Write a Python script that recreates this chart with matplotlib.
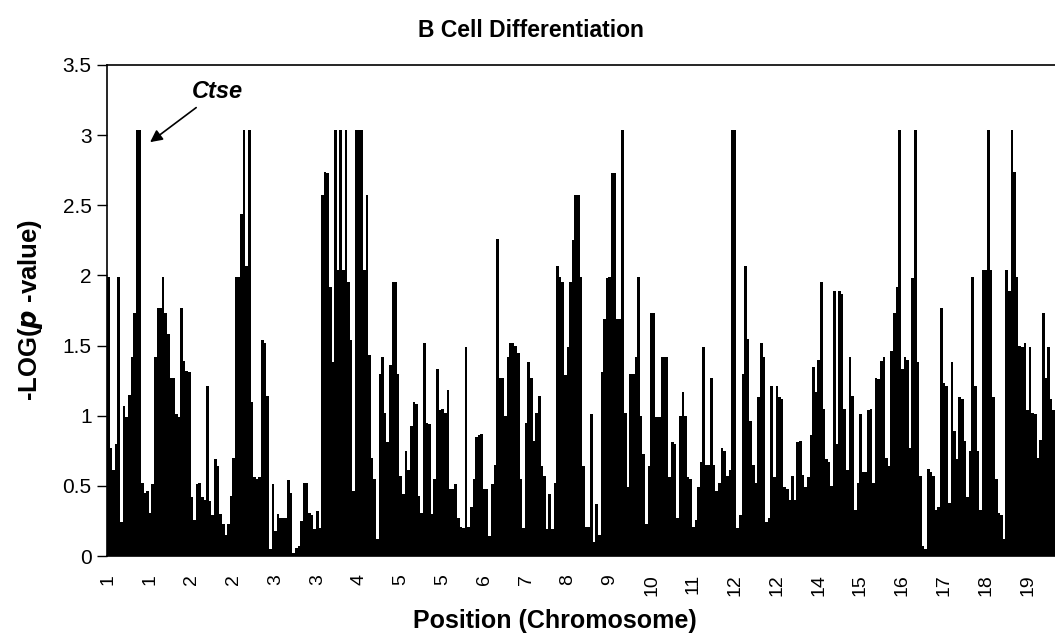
import matplotlib
matplotlib.use("Agg")
import matplotlib.pyplot as plt
from matplotlib.ticker import FixedLocator, FuncFormatter

plt.rcParams['font.family'] = ['Liberation Sans', 'DejaVu Sans']

# -log(p) per marker, read left to right along the genome
log_p = [
    # chr 1 - 3
    1.99, 0.77, 0.61, 0.80, 1.99, 0.24, 1.07, 0.99, 1.15, 1.42,
    1.73, 3.04, 3.04, 0.52, 0.45, 0.46, 0.31, 0.51, 1.42, 1.77,
    1.77, 1.99, 1.73, 1.58, 1.27, 1.27, 1.01, 0.99, 1.77, 1.39,
    1.32, 1.31, 0.42, 0.26, 0.51, 0.52, 0.42, 0.40, 1.21, 0.39,
    0.29, 0.69, 0.64, 0.30, 0.23, 0.15, 0.23, 0.43, 0.70, 1.99,
    1.99, 2.44, 3.04, 2.07, 3.04, 1.10, 0.56, 0.55, 0.56,
    # chr 3 - 5
    1.54, 1.52, 1.14, 0.05, 0.51, 0.18, 0.30, 0.27, 0.27, 0.27,
    0.54, 0.45, 0.02, 0.06, 0.07, 0.25, 0.52, 0.52, 0.31, 0.29,
    0.19, 0.32, 0.20, 2.57, 2.74, 2.73, 1.92, 1.38, 3.04, 2.04,
    3.04, 2.04, 3.04, 1.95, 1.54, 0.46, 3.04, 3.04, 3.04, 2.04,
    2.57, 1.43, 0.70, 0.55, 0.12, 1.30, 1.42, 1.02, 0.81, 1.36,
    1.95, 1.95, 1.30, 0.57, 0.44, 0.75, 0.61, 0.93, 1.10, 1.08,
    0.43,
    # chr 5 - 9
    0.31, 1.52, 0.95, 0.94, 0.30, 0.55, 1.33, 1.04, 1.05, 1.02,
    1.18, 0.48, 0.48, 0.51, 0.27, 0.21, 0.20, 1.49, 0.21, 0.35,
    0.55, 0.85, 0.86, 0.87, 0.48, 0.48, 0.14, 0.51, 0.65, 2.26,
    1.27, 1.27, 1.00, 1.42, 1.52, 1.52, 1.50, 1.45, 0.55, 0.20,
    0.95, 1.38, 1.27, 0.82, 1.02, 1.14, 0.64, 0.57, 0.19, 0.44,
    0.19, 0.52, 2.07, 1.99, 1.95, 1.29, 1.49, 1.95, 2.25, 2.57,
    2.57,
    # chr 9 - 12
    1.99, 0.64, 0.21, 0.21, 1.01, 0.10, 0.37, 0.15, 1.31, 1.69,
    1.98, 1.99, 2.73, 2.73, 1.69, 1.69, 3.04, 1.02, 0.49, 1.30,
    1.30, 1.42, 1.99, 1.00, 0.73, 0.23, 0.64, 1.73, 1.73, 0.99,
    0.99, 1.42, 1.42, 1.42, 0.56, 0.81, 0.80, 0.27, 1.00, 1.17,
    1.00, 0.56, 0.55, 0.21, 0.26, 0.49, 0.67, 1.49, 0.65, 0.65,
    1.27, 0.65, 0.46, 0.52, 0.77, 0.75, 0.57, 0.61, 3.04, 3.04,
    0.20,
    # chr 12 - 16
    0.29, 1.30, 2.07, 1.55, 0.96, 0.65, 0.52, 1.13, 1.52, 1.42,
    0.24, 0.27, 1.21, 0.56, 1.21, 1.13, 1.12, 0.49, 0.48, 0.40,
    0.57, 0.40, 0.81, 0.82, 0.58, 0.49, 0.56, 0.86, 1.35, 1.17,
    1.40, 1.95, 1.05, 0.69, 0.67, 0.50, 1.89, 0.80, 1.89, 1.87,
    1.05, 0.61, 1.42, 1.14, 0.33, 0.52, 1.01, 0.60, 0.60, 1.04,
    1.05, 0.52, 1.27, 1.26, 1.39, 1.42, 0.70, 0.64, 1.46, 1.73,
    1.92,
    # chr 16 - 19
    3.04, 1.33, 1.42, 1.40, 0.77, 1.98, 3.04, 1.38, 0.57, 0.07,
    0.05, 0.62, 0.60, 0.57, 0.33, 0.35, 1.77, 1.23, 1.21, 0.38,
    1.38, 0.89, 0.69, 1.13, 1.12, 0.82, 0.42, 0.75, 1.99, 1.21,
    0.75, 0.33, 2.04, 2.04, 3.04, 2.04, 1.13, 0.55, 0.31, 0.29,
    0.12, 2.04, 1.89, 3.04, 2.74, 1.99, 1.50, 1.49, 1.52, 1.04,
    1.49, 1.02, 1.01, 0.70, 0.83, 1.73, 1.27, 1.49, 1.12, 1.04,
]

# chromosome shown under every 16th marker
tick_labels = ['1', '1', '2', '2', '3', '3', '4', '5', '5', '6', '7', '8',
               '9', '10', '11', '12', '12', '14', '15', '16', '17', '18', '19']
label_step = 16

n = len(log_p)
xs = list(range(n))

fig = plt.figure(figsize=(10.55, 6.44), dpi=100)
ax = fig.add_axes([107 / 1055, 88 / 644, 948 / 1055, 491 / 644])

ax.bar(xs, log_p, width=1.0, color='black', linewidth=0)

ax.set_xlim(-0.5, n - 0.5)
ax.set_ylim(0, 3.5)
ax.yaxis.set_major_locator(FixedLocator([0, 0.5, 1, 1.5, 2, 2.5, 3, 3.5]))
ax.yaxis.set_major_formatter(FuncFormatter(lambda v, p: f'{v:g}'))
ax.set_xticks([i * label_step for i in range(len(tick_labels))])
ax.set_xticklabels(tick_labels, rotation=90, va='top', ha='center')

ax.tick_params(axis='x', length=0, pad=13, labelsize=14)
ax.tick_params(axis='y', length=7, width=1, direction='out', pad=4, labelsize=15)
ax.spines['right'].set_visible(False)
for s in ['top', 'left', 'bottom']:
    ax.spines[s].set_linewidth(1.2)

fig.text(0.503, 0.953, 'B Cell Differentiation', ha='center', va='center',
         fontsize=16.5, fontweight='bold')
fig.text(0.029, 0.519, r'-LOG($\mathbfit{p}$ -value)', ha='center', va='center',
         rotation=90, fontsize=18.5, fontweight='bold')
fig.text(0.526, 0.036, 'Position (Chromosome)', ha='center', va='center',
         fontsize=18, fontweight='bold')

ax.annotate('Ctse', xy=(16.0, 2.95), xytext=(32.0, 3.31),
            fontsize=17, fontweight='bold', style='italic', va='center', ha='left',
            arrowprops=dict(arrowstyle='-|>', color='black', lw=1.2,
                            mutation_scale=18, shrinkA=2, shrinkB=0))

fig.savefig('out.png', dpi=100)
